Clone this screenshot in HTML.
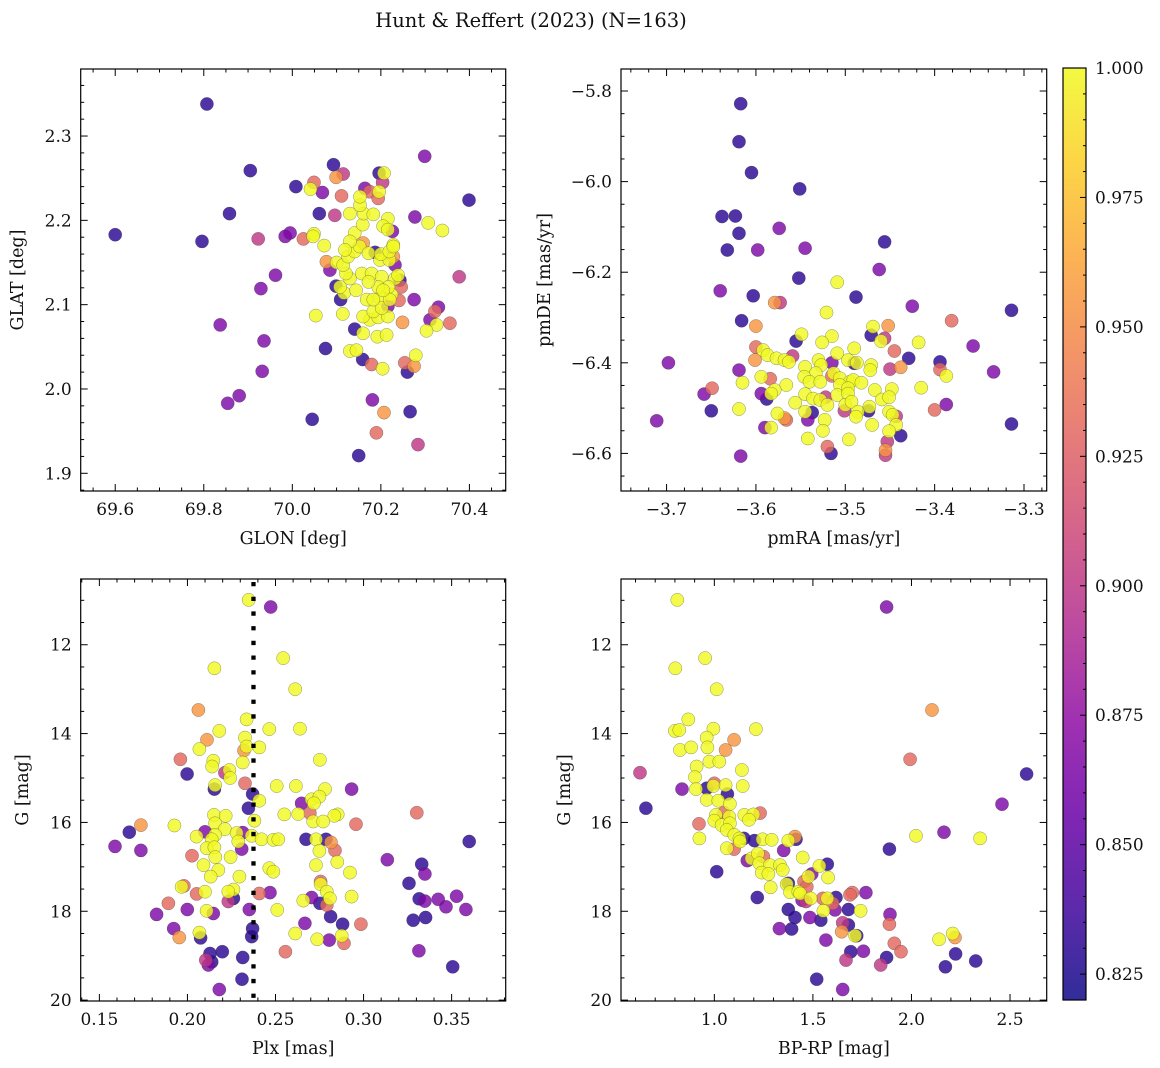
<!DOCTYPE html>
<html><head><meta charset="utf-8">
<style>
html,body{margin:0;padding:0;background:#fff;}
svg{display:block;font-family:"DejaVu Serif","Liberation Serif",serif;}
</style></head>
<body>
<svg id="fig" width="1160" height="1068" viewBox="0 0 1160 1068" xmlns="http://www.w3.org/2000/svg">
<text x="531" y="27" font-size="19.5" text-anchor="middle" fill="#111">Hunt &amp; Reffert (2023) (N=163)</text>
<defs>
<linearGradient id="cbgrad" x1="0" y1="1" x2="0" y2="0">
<stop offset="0" stop-color="#0d0887"/><stop offset="0.1" stop-color="#41049d"/><stop offset="0.2" stop-color="#6a00a8"/><stop offset="0.3" stop-color="#8f0da4"/><stop offset="0.4" stop-color="#b12a90"/><stop offset="0.5" stop-color="#cc4778"/><stop offset="0.6" stop-color="#e16462"/><stop offset="0.7" stop-color="#f2844b"/><stop offset="0.8" stop-color="#fca636"/><stop offset="0.9" stop-color="#fcce25"/><stop offset="1" stop-color="#f0f921"/>
</linearGradient>
</defs>
<g id="layer"></g>
</svg>
<script>
// Data: [x, y, membership probability]
const posData = [
[69.807,2.338,.83],[69.6,2.183,.83],[69.796,2.175,.83],[69.858,2.208,.83],[69.905,2.259,.83],[69.923,2.178,.9],[69.984,2.181,.865],[69.995,2.185,.865],[70.025,2.178,.93],[70.008,2.240,.83],[70.049,2.245,.93],[70.041,2.237,1],[70.068,2.233,.865],[70.093,2.266,.83],[70.115,2.255,.9],[70.099,2.251,.955],[70.111,2.229,.93],[70.061,2.208,.83],[70.096,2.206,.9],[69.962,2.135,.865],[69.929,2.119,.865],[69.837,2.076,.865],[69.936,2.057,.865],[69.932,2.021,.865],[69.88,1.992,.865],[69.854,1.983,.865],[70.045,1.964,.83],[70.15,1.921,.83],[70.181,1.987,.865],[70.207,1.972,.955],[70.19,1.948,.93],[70.284,1.934,.9],[70.266,1.973,.83],[70.26,2.020,.83],[70.254,2.031,.93],[70.275,2.027,.955],[70.279,2.04,1],[70.159,2.035,.83],[70.179,2.029,.93],[70.204,2.024,1],[70.299,2.276,.865],[70.399,2.224,.83],[70.277,2.204,.865],[70.307,2.197,1],[70.339,2.188,1],[70.377,2.133,.9],[70.275,2.106,.865],[70.33,2.097,.865],[70.322,2.092,.93],[70.311,2.082,.865],[70.326,2.076,1],[70.303,2.069,1],[70.356,2.078,.93],[70.249,2.079,.955],[70.053,2.087,1],[70.114,2.089,1],[70.075,2.048,.83],[70.13,2.045,1],[70.145,2.046,1],[70.141,2.071,.83],[70.16,2.066,1],[70.175,2.082,1],[70.192,2.062,1],[70.213,2.064,1],[70.194,2.085,1],[70.216,2.086,1],[70.16,2.086,1],[70.197,2.108,1],[70.168,2.106,1],[70.224,2.112,1],[70.241,2.105,.93],[70.109,2.106,.83],[70.117,2.114,1],[70.099,2.122,.83],[70.108,2.121,1],[70.144,2.117,1],[70.13,2.131,1],[70.157,2.137,1],[70.179,2.137,1],[70.202,2.133,1],[70.232,2.131,1],[70.217,2.121,1],[70.194,2.121,1],[70.172,2.127,1],[70.121,2.137,1],[70.1,2.15,1],[70.085,2.141,.865],[70.077,2.151,.955],[70.115,2.147,1],[70.126,2.157,1],[70.141,2.163,1],[70.16,2.173,.955],[70.152,2.169,1],[70.172,2.161,1],[70.198,2.153,1],[70.219,2.153,1],[70.228,2.157,.955],[70.239,2.135,1],[70.246,2.121,.93],[70.232,2.147,.865],[70.187,2.162,.83],[70.2,2.16,1],[70.219,2.163,1],[70.228,2.171,1],[70.141,2.185,1],[70.13,2.175,1],[70.119,2.165,1],[70.049,2.184,1],[70.047,2.181,1],[70.072,2.17,1],[70.13,2.208,1],[70.159,2.195,1],[70.161,2.208,1],[70.183,2.207,1],[70.153,2.218,1],[70.153,2.228,1],[70.164,2.238,.865],[70.175,2.234,.93],[70.194,2.226,.93],[70.196,2.234,1],[70.196,2.256,.83],[70.207,2.256,1],[70.204,2.245,.9],[70.216,2.202,1],[70.205,2.193,1],[70.216,2.189,1],[70.226,2.187,.865],[70.228,2.169,1],[70.243,2.129,.83],[70.183,2.092,1],[70.202,2.096,1],[70.216,2.098,.865],[70.22,2.106,1],[70.205,2.117,1],[70.183,2.106,1]
];
const pmData = [
[-3.617,-5.828,.83],[-3.619,-5.912,.83],[-3.605,-5.98,.83],[-3.551,-6.016,.83],[-3.638,-6.077,.83],[-3.623,-6.076,.83],[-3.619,-6.114,.83],[-3.574,-6.103,.865],[-3.632,-6.151,.83],[-3.598,-6.151,.865],[-3.545,-6.147,.865],[-3.456,-6.133,.83],[-3.552,-6.213,.83],[-3.462,-6.194,.865],[-3.64,-6.241,.865],[-3.603,-6.252,.83],[-3.488,-6.255,.83],[-3.573,-6.267,.9],[-3.579,-6.267,.955],[-3.509,-6.222,1],[-3.425,-6.275,.865],[-3.314,-6.284,.83],[-3.381,-6.307,.93],[-3.616,-6.307,.83],[-3.6,-6.319,.955],[-3.521,-6.289,1],[-3.452,-6.318,.955],[-3.469,-6.32,1],[-3.471,-6.339,.83],[-3.456,-6.346,.9],[-3.46,-6.352,1],[-3.515,-6.341,1],[-3.526,-6.355,1],[-3.549,-6.337,1],[-3.555,-6.352,.83],[-3.418,-6.355,1],[-3.357,-6.363,.865],[-3.445,-6.374,.93],[-3.49,-6.368,1],[-3.509,-6.379,1],[-3.6,-6.365,.93],[-3.592,-6.372,1],[-3.587,-6.383,1],[-3.559,-6.385,.9],[-3.577,-6.39,1],[-3.568,-6.394,1],[-3.563,-6.398,1],[-3.601,-6.394,.955],[-3.429,-6.39,.83],[-3.698,-6.4,.865],[-3.619,-6.416,.865],[-3.545,-6.409,1],[-3.53,-6.394,1],[-3.527,-6.405,1],[-3.515,-6.4,.865],[-3.497,-6.394,1],[-3.49,-6.401,.83],[-3.487,-6.4,1],[-3.471,-6.405,1],[-3.472,-6.416,1],[-3.45,-6.414,.9],[-3.438,-6.41,.955],[-3.394,-6.398,.83],[-3.394,-6.415,.93],[-3.387,-6.429,1],[-3.334,-6.42,.865],[-3.533,-6.423,1],[-3.546,-6.431,1],[-3.54,-6.442,1],[-3.528,-6.442,1],[-3.515,-6.429,.93],[-3.513,-6.423,1],[-3.506,-6.434,1],[-3.495,-6.442,1],[-3.491,-6.438,1],[-3.482,-6.444,1],[-3.594,-6.431,1],[-3.584,-6.435,.93],[-3.615,-6.444,1],[-3.566,-6.449,1],[-3.506,-6.449,1],[-3.497,-6.456,1],[-3.467,-6.46,1],[-3.448,-6.458,1],[-3.415,-6.455,1],[-3.649,-6.456,.93],[-3.658,-6.469,.865],[-3.579,-6.46,1],[-3.594,-6.468,.865],[-3.588,-6.48,.83],[-3.583,-6.468,1],[-3.545,-6.469,1],[-3.536,-6.479,1],[-3.528,-6.482,1],[-3.522,-6.476,.9],[-3.509,-6.471,1],[-3.497,-6.468,1],[-3.459,-6.481,1],[-3.451,-6.476,1],[-3.556,-6.488,1],[-3.52,-6.493,1],[-3.5,-6.493,1],[-3.493,-6.486,1],[-3.473,-6.497,1],[-3.387,-6.492,.865],[-3.65,-6.506,.83],[-3.619,-6.502,1],[-3.576,-6.512,1],[-3.537,-6.51,.83],[-3.545,-6.508,1],[-3.501,-6.506,.9],[-3.474,-6.506,.83],[-3.486,-6.508,1],[-3.451,-6.508,1],[-3.447,-6.515,1],[-3.4,-6.504,.93],[-3.488,-6.519,1],[-3.566,-6.526,.93],[-3.568,-6.522,.955],[-3.711,-6.528,.865],[-3.523,-6.526,1],[-3.542,-6.526,.865],[-3.443,-6.518,.9],[-3.443,-6.537,1],[-3.47,-6.537,1],[-3.59,-6.543,.865],[-3.583,-6.543,1],[-3.314,-6.535,.83],[-3.525,-6.55,1],[-3.451,-6.551,1],[-3.438,-6.561,.83],[-3.542,-6.567,1],[-3.496,-6.569,1],[-3.453,-6.574,.9],[-3.52,-6.585,.93],[-3.516,-6.6,.83],[-3.455,-6.593,.955],[-3.455,-6.604,.9],[-3.617,-6.606,.865]
];
const plxData = [
[0.2348,10.99,1],[0.2473,11.15,.865],[0.2544,12.30,1],[0.2153,12.53,1],[0.2612,13.0,1],[0.2062,13.47,.955],[0.2336,13.68,1],[0.2639,13.89,1],[0.2181,13.94,1],[0.2465,13.9,1],[0.2111,14.14,.955],[0.2327,14.09,1],[0.2068,14.35,1],[0.2408,14.31,1],[0.2321,14.38,.955],[0.2336,14.29,1],[0.196,14.58,.93],[0.2147,14.61,1],[0.2314,14.65,1],[0.2752,14.59,1],[0.214,14.74,1],[0.1998,14.91,.83],[0.2213,14.88,.9],[0.2238,14.82,1],[0.2242,15.0,1],[0.2327,15.12,.93],[0.2157,15.16,1],[0.2153,15.25,.83],[0.2507,15.18,1],[0.2616,15.18,1],[0.2932,15.25,.865],[0.2781,15.25,1],[0.237,15.36,.83],[0.2408,15.51,1],[0.2648,15.57,.865],[0.2705,15.48,1],[0.2749,15.42,1],[0.2718,15.57,1],[0.2346,15.68,.83],[0.2695,15.79,.93],[0.2629,15.81,1],[0.255,15.82,1],[0.3302,15.78,.93],[0.2853,15.82,1],[0.2834,15.85,1],[0.2151,15.83,1],[0.2217,15.85,1],[0.2714,15.98,1],[0.2771,15.98,1],[0.238,15.96,1],[0.2157,16.02,1],[0.2957,16.04,.93],[0.1736,16.06,.955],[0.1926,16.07,1],[0.167,16.22,.83],[0.21,16.21,.865],[0.2314,16.23,.865],[0.2213,16.15,1],[0.2157,16.28,1],[0.2279,16.24,1],[0.2052,16.32,1],[0.2138,16.38,1],[0.2365,16.3,1],[0.2421,16.38,1],[0.2488,16.39,1],[0.2516,16.38,1],[0.2673,16.38,.83],[0.2787,16.38,.83],[0.273,16.38,1],[0.2815,16.45,.955],[0.2838,16.63,.93],[0.2289,16.43,1],[0.2109,16.58,1],[0.2153,16.56,1],[0.2308,16.6,.865],[0.2749,16.64,1],[0.36,16.43,.83],[0.1589,16.54,.865],[0.1736,16.63,.865],[0.2026,16.75,.93],[0.2158,16.78,1],[0.2245,16.78,1],[0.3135,16.84,.865],[0.2851,16.89,1],[0.2091,16.96,1],[0.333,16.94,.83],[0.273,16.96,1],[0.2175,17.07,1],[0.2465,17.03,1],[0.2488,17.11,1],[0.3348,17.16,.865],[0.2923,17.13,1],[0.2132,17.22,1],[0.2295,17.22,1],[0.3258,17.37,.83],[0.2756,17.33,.93],[0.2756,17.39,1],[0.198,17.43,.93],[0.1967,17.45,1],[0.2261,17.51,1],[0.2232,17.56,1],[0.2052,17.61,.93],[0.21,17.56,1],[0.2469,17.58,.865],[0.2408,17.6,.93],[0.2791,17.56,1],[0.2932,17.67,1],[0.2705,17.69,.865],[0.2809,17.71,1],[0.3424,17.73,.865],[0.3528,17.66,.865],[0.3316,17.72,.83],[0.3348,17.77,.865],[0.2232,17.78,.9],[0.2658,17.76,1],[0.2752,17.82,.83],[0.2261,17.71,.83],[0.1892,17.82,.93],[0.2791,17.86,.93],[0.3468,17.9,.865],[0.1999,17.96,.865],[0.2351,17.96,.865],[0.251,17.97,1],[0.2109,17.99,1],[0.3581,17.96,.865],[0.1825,18.07,.865],[0.2147,18.05,.865],[0.2813,18.12,.83],[0.3352,18.14,.83],[0.3282,18.2,.83],[0.2667,18.27,.865],[0.2881,18.29,.83],[0.2985,18.29,.93],[0.1922,18.39,.865],[0.237,18.39,.83],[0.2075,18.6,.83],[0.2068,18.48,1],[0.2612,18.5,1],[0.1954,18.59,.955],[0.2365,18.57,.83],[0.2876,18.55,1],[0.2737,18.63,1],[0.2805,18.65,.865],[0.2889,18.72,.93],[0.2556,18.91,.93],[0.3314,18.89,.865],[0.2198,18.91,.83],[0.2128,18.95,.83],[0.2138,19.14,.83],[0.2104,19.1,.9],[0.2119,19.21,.865],[0.2314,19.04,.83],[0.3506,19.25,.83],[0.231,19.53,.83],[0.2181,19.76,.865]
];
const cmdData = [
[0.812,10.99,1],[1.874,11.15,.865],[0.953,12.30,1],[0.802,12.53,1],[1.012,13.0,1],[2.104,13.47,.955],[0.868,13.68,1],[0.995,13.89,1],[1.211,13.9,1],[0.8,13.94,1],[0.822,13.92,1],[1.1,14.14,.955],[0.961,14.09,1],[0.826,14.37,1],[0.882,14.31,1],[1.057,14.37,.955],[0.965,14.31,1],[1.993,14.58,.93],[0.975,14.63,1],[1.025,14.63,1],[0.91,14.74,1],[1.14,14.82,1],[0.623,14.88,.9],[2.584,14.91,.83],[0.902,14.98,1],[1.0,15.12,.93],[0.995,15.18,1],[1.057,15.16,1],[1.144,15.18,1],[0.961,15.23,.83],[0.836,15.25,.865],[1.066,15.36,.83],[0.907,15.25,1],[0.961,15.49,1],[1.02,15.51,1],[0.653,15.68,.83],[1.079,15.58,1],[2.459,15.59,.865],[1.232,15.79,.93],[1.152,15.83,1],[1.198,15.82,1],[1.008,15.83,1],[1.049,15.78,.93],[1.076,15.87,1],[1.0,15.96,1],[1.176,15.94,1],[0.922,16.03,.93],[1.037,16.06,1],[1.079,16.02,1],[1.063,16.17,1],[2.165,16.22,.865],[2.023,16.3,1],[2.348,16.36,1],[0.924,16.36,1],[1.15,16.36,.83],[1.101,16.28,1],[1.127,16.36,1],[1.203,16.41,.83],[1.414,16.38,.83],[1.409,16.32,.955],[1.245,16.38,1],[1.291,16.39,1],[1.375,16.41,1],[1.1,16.6,.93],[1.063,16.58,1],[1.13,16.43,1],[1.888,16.6,.83],[1.352,16.63,.865],[1.249,16.77,.93],[1.189,16.81,1],[1.221,16.7,1],[1.448,16.79,1],[1.167,16.86,.865],[1.228,16.92,1],[1.573,16.94,.83],[1.282,16.96,1],[1.333,16.96,1],[1.533,16.98,1],[1.347,17.07,1],[1.012,17.11,.83],[1.24,17.13,1],[1.274,17.16,1],[1.494,17.16,.865],[1.477,17.22,1],[1.577,17.24,1],[1.455,17.33,.93],[1.375,17.37,.83],[1.367,17.39,1],[1.286,17.46,1],[1.469,17.45,.93],[1.384,17.57,1],[1.426,17.56,1],[1.435,17.6,1],[1.769,17.58,.865],[1.7,17.58,.93],[1.688,17.63,.93],[1.218,17.69,.83],[1.617,17.69,.83],[1.445,17.75,.865],[1.465,17.78,.9],[1.489,17.71,1],[1.55,17.71,.93],[1.573,17.71,1],[1.6,17.82,.93],[1.612,17.97,.865],[1.375,17.96,.83],[1.553,17.99,1],[1.68,17.96,.83],[1.742,17.99,1],[1.891,18.07,.865],[1.409,18.14,.83],[1.485,18.14,.865],[1.54,18.2,.83],[1.68,18.31,.83],[1.651,18.26,.9],[1.888,18.29,.93],[1.33,18.39,.865],[1.392,18.4,.83],[1.646,18.46,.955],[1.722,18.55,.83],[1.714,18.55,1],[2.209,18.5,1],[2.221,18.59,.955],[2.14,18.63,1],[1.566,18.65,.865],[1.913,18.72,.93],[1.947,18.91,.93],[1.756,18.9,.865],[1.692,18.91,.83],[1.874,19.04,.83],[2.224,18.96,.83],[1.668,19.1,.9],[2.326,19.12,.83],[1.844,19.21,.9],[2.172,19.25,.83],[1.519,19.53,.83],[1.651,19.76,.865]
];
const plxMedian = [0.2375];
const cbarTicks = [0.825,0.850,0.875,0.900,0.925,0.950,0.975,1.000];
const vmin = 0.82, vmax = 1.0;

const NS = 'http://www.w3.org/2000/svg';
const layer = document.getElementById('layer');
function mk(tag, attrs, parent){ const e=document.createElementNS(NS,tag); for(const k in attrs) e.setAttribute(k,attrs[k]); (parent||layer).appendChild(e); return e; }

const stops=[[13,8,135],[65,4,157],[106,0,168],[143,13,164],[177,42,144],[204,71,120],[225,100,98],[242,132,75],[252,166,54],[252,206,37],[240,249,33]];
function plasma(v){ let t=Math.max(0,Math.min(1,(v-vmin)/(vmax-vmin)))*10; const i=Math.min(9,Math.floor(t)); const f=t-i; const a=stops[i],b=stops[i+1]; return 'rgb('+[0,1,2].map(k=>Math.round(a[k]+(b[k]-a[k])*f)).join(',')+')'; }
function fmt(v,d){ const s=Math.abs(v).toFixed(d); return (v<0?'\u2212':'')+s; }

function panel(cfg){
  const g=mk('g',{});
  
  
  const X=v=>cfg.x0+(v-cfg.xmin)/(cfg.xmax-cfg.xmin)*(cfg.x1-cfg.x0);
  const Y=v=>cfg.inv ? cfg.y0+(v-cfg.ymin)/(cfg.ymax-cfg.ymin)*(cfg.y1-cfg.y0) : cfg.y1-(v-cfg.ymin)/(cfg.ymax-cfg.ymin)*(cfg.y1-cfg.y0);
  const pts=cfg.data.slice().sort((a,b)=>a[2]-b[2]);
  const cl=mk('clipPath',{id:'clip'+cfg.name},g); mk('rect',{x:cfg.x0,y:cfg.y0,width:cfg.x1-cfg.x0,height:cfg.y1-cfg.y0},cl);
  const pg=mk('g',{'clip-path':'url(#clip'+cfg.name+')'},g);
  
  
  for(const p of pts){
    const c=mk('circle',{cx:X(p[0]).toFixed(1),cy:Y(p[1]).toFixed(1),r:6.6,fill:plasma(p[2]),'fill-opacity':0.82,stroke:'rgba(60,60,60,0.55)','stroke-width':0.5},pg);
    
    
  }
  if(cfg.vline){ for(const v of cfg.vline){ const l=mk('line',{x1:X(v),x2:X(v),y1:cfg.y0+3,y2:cfg.y1,stroke:'#000','stroke-width':4.3,'stroke-dasharray':'4.3 10.4'},g);   } }
  const fr=mk('rect',{x:cfg.x0,y:cfg.y0,width:cfg.x1-cfg.x0,height:cfg.y1-cfg.y0,fill:'none',stroke:'#000','stroke-width':1.2},g);
  
  
  const eps=1e-9;
  for(let v=Math.ceil(cfg.xmin/cfg.xminor-eps)*cfg.xminor; v<=cfg.xmax+eps; v+=cfg.xminor){
    const isMaj=Math.abs(v/cfg.xmajor-Math.round(v/cfg.xmajor))<1e-4;
    const L=isMaj?7:3.5, x=X(v);
    mk('line',{x1:x,x2:x,y1:cfg.y1,y2:cfg.y1-L,stroke:'#000','stroke-width':1},g);
    mk('line',{x1:x,x2:x,y1:cfg.y0,y2:cfg.y0+L,stroke:'#000','stroke-width':1},g);
    if(isMaj){ const t=mk('text',{x:x,y:cfg.y1+24,'font-size':17,'text-anchor':'middle',fill:'#111'},g); t.textContent=fmt(v,cfg.xdec);   }
  }
  for(let v=Math.ceil(cfg.ymin/cfg.yminor-eps)*cfg.yminor; v<=cfg.ymax+eps; v+=cfg.yminor){
    const isMaj=Math.abs(v/cfg.ymajor-Math.round(v/cfg.ymajor))<1e-4;
    const L=isMaj?7:3.5, y=Y(v);
    mk('line',{x1:cfg.x0,x2:cfg.x0+L,y1:y,y2:y,stroke:'#000','stroke-width':1},g);
    mk('line',{x1:cfg.x1,x2:cfg.x1-L,y1:y,y2:y,stroke:'#000','stroke-width':1},g);
    if(isMaj){ const t=mk('text',{x:cfg.x0-9,y:y+6,'font-size':17,'text-anchor':'end',fill:'#111'},g); t.textContent=fmt(v,cfg.ydec);   }
  }
  const xl=mk('text',{x:(cfg.x0+cfg.x1)/2,y:cfg.y1+53,'font-size':17.5,'text-anchor':'middle',fill:'#111'},g);
  xl.textContent=cfg.xlabel;  
  const yx=cfg.ylx, yy=(cfg.y0+cfg.y1)/2;
  const yl=mk('text',{x:yx,y:yy,'font-size':17.5,'text-anchor':'middle',fill:'#111',transform:'rotate(-90 '+yx+' '+yy+')'},g);
  yl.textContent=cfg.ylabel;  
}

panel({name:'position-panel',data:posData,x0:80.7,x1:505.7,y0:69,y1:491,xmin:69.522,xmax:70.482,ymin:1.879,ymax:2.3795,xmajor:0.2,xminor:0.05,ymajor:0.1,yminor:0.02,xdec:1,ydec:1,xlabel:'GLON [deg]',ylabel:'GLAT [deg]',ylx:23});
panel({name:'proper-motion-panel',data:pmData,x0:621,x1:1046.7,y0:69,y1:491,xmin:-3.751,xmax:-3.2746,ymin:-6.683,ymax:-5.7514,xmajor:0.1,xminor:0.02,ymajor:0.2,yminor:0.05,xdec:1,ydec:1,xlabel:'pmRA [mas/yr]',ylabel:'pmDE [mas/yr]',ylx:550});
panel({name:'parallax-panel',data:plxData,vline:plxMedian,x0:80.7,x1:505.7,y0:579,y1:1001,xmin:0.1394,xmax:0.3807,ymin:10.52,ymax:20.02,inv:true,xmajor:0.05,xminor:0.01,ymajor:2,yminor:0.5,xdec:2,ydec:0,xlabel:'Plx [mas]',ylabel:'G [mag]',ylx:28});
panel({name:'cmd-panel',data:cmdData,x0:621,x1:1046.7,y0:579,y1:1001,xmin:0.5265,xmax:2.686,ymin:10.52,ymax:20.02,inv:true,xmajor:0.5,xminor:0.1,ymajor:2,yminor:0.5,xdec:1,ydec:0,xlabel:'BP-RP [mag]',ylabel:'G [mag]',ylx:570});

(function(){
  const cx0=1063, cx1=1086, cy0=68, cy1=1000;
  const g=mk('g',{});
  
  
  const r=mk('rect',{x:cx0,y:cy0,width:cx1-cx0,height:cy1-cy0,fill:'url(#cbgrad)','fill-opacity':0.85,stroke:'#000','stroke-width':1.2},g);
  
  
  const Y=v=>cy1-(v-vmin)/(vmax-vmin)*(cy1-cy0);
  for(let v=0.82; v<=1.0001; v+=0.005){
    const maj=cbarTicks.some(t=>Math.abs(t-v)<1e-4);
    mk('line',{x1:cx1,x2:cx1-(maj?6:3),y1:Y(v),y2:Y(v),stroke:'#000','stroke-width':1},g);
  }
  for(const t of cbarTicks){
    const tx=mk('text',{x:cx1+9,y:Y(t)+6,'font-size':17,fill:'#111'},g);
    tx.textContent=t.toFixed(3);
    
    
  }
})();
</script>
</body></html>
